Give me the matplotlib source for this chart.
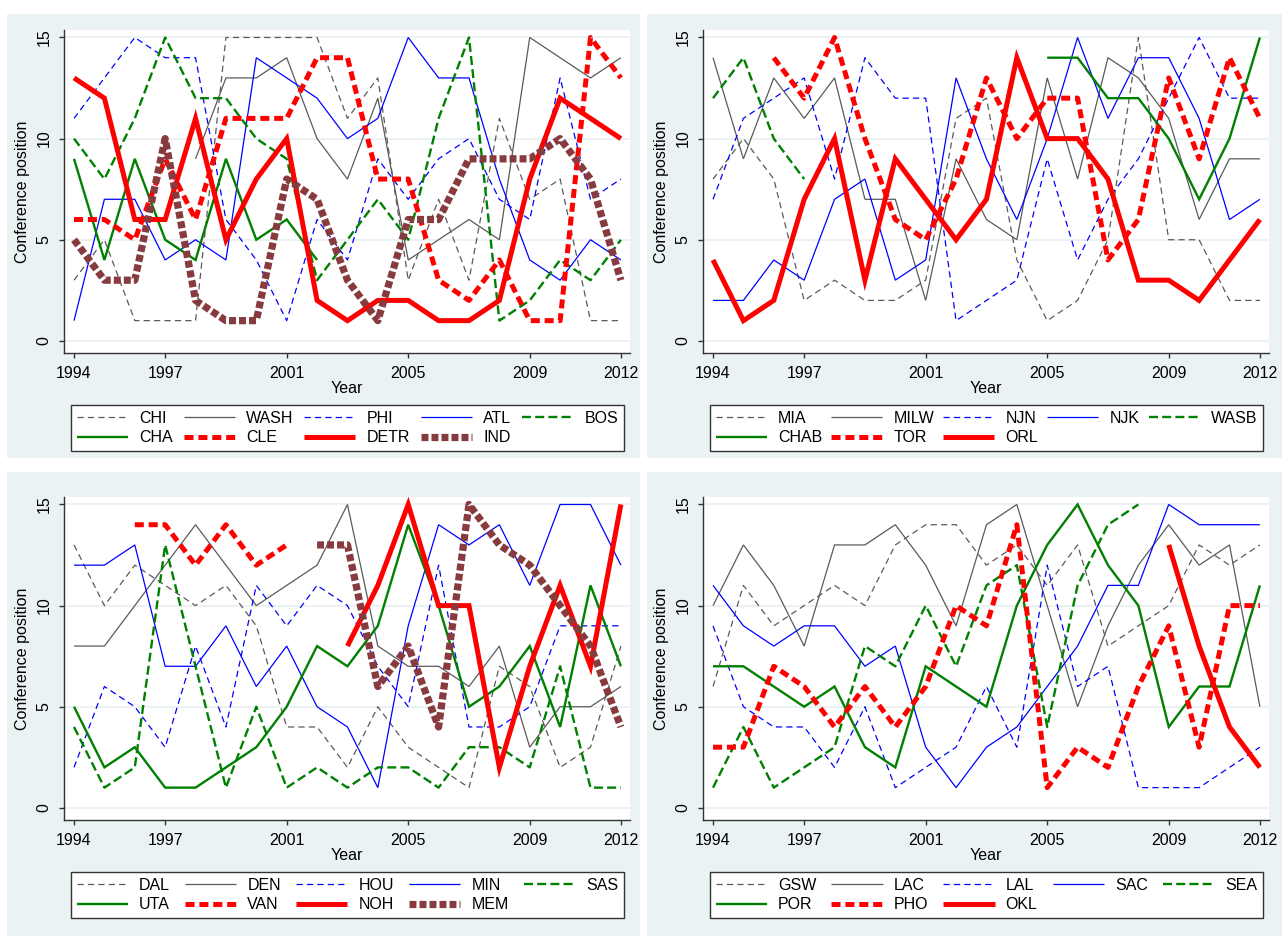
import numpy as np
import matplotlib.pyplot as plt
from matplotlib.patches import Rectangle

plt.rcParams['font.family'] = ['Liberation Sans', 'DejaVu Sans']
plt.rcParams['lines.scale_dashes'] = False

nan = np.nan
years = np.arange(1994, 2013)
xticks = [1994, 1997, 2001, 2005, 2009, 2012]
yticks = [0, 5, 10, 15]

# panel 1
CHI = [3, 5, 1, 1, 1, 15, 15, 15, 15, 11, 13, 3, 7, 3, 11, 7, 8, 1, 1]
WASH = [nan, nan, nan, nan, 9, 13, 13, 14, 10, 8, 12, 4, 5, 6, 5, 15, 14, 13, 14]
PHI = [11, 13, 15, 14, 14, 6, 4, 1, 6, 4, 9, 7, 9, 10, 7, 6, 13, 7, 8]
ATL = [1, 7, 7, 4, 5, 4, 14, 13, 12, 10, 11, 15, 13, 13, 8, 4, 3, 5, 4]
BOS = [10, 8, 11, 15, 12, 12, 10, 9, 3, 5, 7, 5, 11, 15, 1, 2, 4, 3, 5]
CHA = [9, 4, 9, 5, 4, 9, 5, 6, 4] + [nan] * 10
CLE = [6, 6, 5, 9, 6, 11, 11, 11, 14, 14, 8, 8, 3, 2, 4, 1, 1, 15, 13]
DETR = [13, 12, 6, 6, 11, 5, 8, 10, 2, 1, 2, 2, 1, 1, 2, 8, 12, 11, 10]
IND = [5, 3, 3, 10, 2, 1, 1, 8, 7, 3, 1, 6, 6, 9, 9, 9, 10, 8, 3]

# panel 2
MIA = [8, 10, 8, 2, 3, 2, 2, 3, 11, 12, 4, 1, 2, 5, 15, 5, 5, 2, 2]
MILW = [14, 9, 13, 11, 13, 7, 7, 2, 9, 6, 5, 13, 8, 14, 13, 11, 6, 9, 9]
NJN = [7, 11, 12, 13, 8, 14, 12, 12, 1, 2, 3, 9, 4, 7, 9, 12, 15, 12, 12]
NJK = [2, 2, 4, 3, 7, 8, 3, 4, 13, 9, 6, 10, 15, 11, 14, 14, 11, 6, 7]
WASB = [12, 14, 10, 8] + [nan] * 15
CHAB = [nan] * 11 + [14, 14, 12, 12, 10, 7, 10, 15]
TOR = [nan, nan, 14, 12, 15, 10, 6, 5, 8, 13, 10, 12, 12, 4, 6, 13, 9, 14, 11]
ORL = [4, 1, 2, 7, 10, 3, 9, 7, 5, 7, 14, 10, 10, 8, 3, 3, 2, 4, 6]

# panel 3
DAL = [13, 10, 12, 11, 10, 11, 9, 4, 4, 2, 5, 3, 2, 1, 7, 6, 2, 3, 8]
DEN = [8, 8, 10, 12, 14, 12, 10, 11, 12, 15, 8, 7, 7, 6, 8, 3, 5, 5, 6]
HOU = [2, 6, 5, 3, 8, 4, 11, 9, 11, 10, 7, 5, 12, 4, 4, 5, 9, 9, 9]
MIN = [12, 12, 13, 7, 7, 9, 6, 8, 5, 4, 1, 9, 14, 13, 14, 11, 15, 15, 12]
SAS = [4, 1, 2, 13, 7, 1, 5, 1, 2, 1, 2, 2, 1, 3, 3, 2, 7, 1, 1]
UTA = [5, 2, 3, 1, 1, 2, 3, 5, 8, 7, 9, 14, 10, 5, 6, 8, 4, 11, 7]
VAN = [nan, nan, 14, 14, 12, 14, 12, 13] + [nan] * 11
NOH = [nan] * 9 + [8, 11, 15, 10, 10, 2, 7, 11, 7, 15]
MEM = [nan] * 8 + [13, 13, 6, 8, 4, 15, 13, 12, 10, 8, 4]

# panel 4
GSW = [6, 11, 9, 10, 11, 10, 13, 14, 14, 12, 13, 11, 13, 8, 9, 10, 13, 12, 13]
LAC = [10, 13, 11, 8, 13, 13, 14, 12, 9, 14, 15, 10, 5, 9, 12, 14, 12, 13, 5]
LAL = [9, 5, 4, 4, 2, 5, 1, 2, 3, 6, 3, 12, 6, 7, 1, 1, 1, 2, 3]
SAC = [11, 9, 8, 9, 9, 7, 8, 3, 1, 3, 4, 6, 8, 11, 11, 15, 14, 14, 14]
SEA = [1, 4, 1, 2, 3, 8, 7, 10, 7, 11, 12, 4, 11, 14, 15] + [nan] * 4
POR = [7, 7, 6, 5, 6, 3, 2, 7, 6, 5, 10, 13, 15, 12, 10, 4, 6, 6, 11]
PHO = [3, 3, 7, 6, 4, 6, 4, 6, 10, 9, 14, 1, 3, 2, 6, 9, 3, 10, 10]
OKL = [nan] * 15 + [13, 8, 4, 2]

panels = [
    (['CHI', 'WASH', 'PHI', 'ATL', 'BOS', 'CHA', 'CLE', 'DETR', 'IND'],
     [CHI, WASH, PHI, ATL, BOS, CHA, CLE, DETR, IND]),
    (['MIA', 'MILW', 'NJN', 'NJK', 'WASB', 'CHAB', 'TOR', 'ORL'],
     [MIA, MILW, NJN, NJK, WASB, CHAB, TOR, ORL]),
    (['DAL', 'DEN', 'HOU', 'MIN', 'SAS', 'UTA', 'VAN', 'NOH', 'MEM'],
     [DAL, DEN, HOU, MIN, SAS, UTA, VAN, NOH, MEM]),
    (['GSW', 'LAC', 'LAL', 'SAC', 'SEA', 'POR', 'PHO', 'OKL'],
     [GSW, LAC, LAL, SAC, SEA, POR, PHO, OKL]),
]

# line look by position in the legend (same scheme in every panel)
styles = [
    dict(color='#5a5a5a', lw=0.9, dashes=(4.5, 3)),
    dict(color='#5a5a5a', lw=0.9),
    dict(color='#0000ff', lw=0.9, dashes=(4.5, 3)),
    dict(color='#0000ff', lw=0.9),
    dict(color='#008000', lw=1.7, dashes=(6.5, 3)),
    dict(color='#008000', lw=1.7),
    dict(color='#ff0000', lw=3.6, dashes=(6.5, 3.5)),
    dict(color='#ff0000', lw=3.6),
    dict(color='#873b3e', lw=5.2, dashes=(5, 2.2)),
]

W, H = 1287, 938
fig = plt.figure(figsize=(W / 100, H / 100), dpi=100)
bg = '#eaf2f3'


def fbox(x0, y0, x1, y1):
    return [x0 / W, 1 - y1 / H, (x1 - x0) / W, (y1 - y0) / H]


regions = [(7, 14, 640, 458), (647, 14, 1282, 458),
           (7, 472, 640, 936), (647, 472, 1282, 936)]
for r in regions:
    b = fbox(*r)
    fig.patches.append(Rectangle((b[0], b[1]), b[2], b[3], transform=fig.transFigure,
                                 facecolor=bg, edgecolor='none', zorder=-10))

offsets = [(0, 0), (639, 0), (0, 467), (639, 467)]
fs = 11.5

for (names, series), (dx, dy) in zip(panels, offsets):
    ax = fig.add_axes(fbox(64 + dx, 30 + dy, 630 + dx, 353 + dy))
    ax.set_facecolor('white')
    lines = []
    for name, vals, st in zip(names, series, styles):
        ln, = ax.plot(years, vals, label=name, solid_joinstyle='miter',
                      dash_capstyle='butt', solid_capstyle='butt', **st)
        lines.append(ln)
    ax.set_xlim(1993.67, 2012.3)
    ax.set_ylim(-0.6, 15.37)
    ax.set_xticks(xticks)
    ax.set_yticks(yticks)
    ax.yaxis.grid(True, color=bg, lw=1.5)
    ax.set_axisbelow(True)
    for s in ['top', 'right']:
        ax.spines[s].set_visible(False)
    for s in ['left', 'bottom']:
        ax.spines[s].set_color('#333333')
        ax.spines[s].set_linewidth(1)
    ax.tick_params(direction='out', length=3.6, width=1, color='#333333',
                   labelsize=fs, pad=5.5)
    ax.tick_params(axis='y', labelrotation=90)
    for lab in ax.get_yticklabels():
        lab.set_va('center')
    ax.set_xlabel('Year', fontsize=fs, labelpad=0)
    ax.set_ylabel('Conference position', fontsize=fs, labelpad=4.5)

    # legend filled row by row, 5 per row (matplotlib fills columns first)
    if len(lines) == 9:
        order = [0, 5, 1, 6, 2, 7, 3, 8, 4]
    else:
        order = [0, 5, 1, 6, 2, 7, 3, 4]
    lb = fbox(71 + dx, 402 + dy, 624 + dx, 454 + dy)
    leg = ax.legend([lines[i] for i in order], [names[i] for i in order],
                    ncol=5, loc='center', bbox_to_anchor=lb,
                    bbox_transform=fig.transFigure, mode='expand',
                    fontsize=fs, handlelength=3.2, handletextpad=0.7,
                    borderpad=0.35, labelspacing=0.3, borderaxespad=0,
                    fancybox=False, framealpha=1, columnspacing=1.0)
    leg.get_frame().set_edgecolor('#333333')
    leg.get_frame().set_linewidth(1)

fig.savefig('out.png', dpi=100, facecolor='white')
